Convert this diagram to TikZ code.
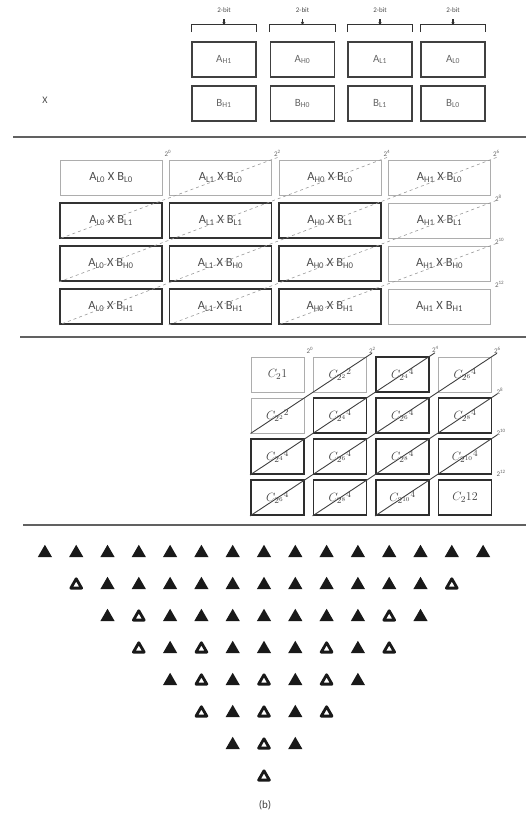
\documentclass[tikz,border=0pt]{standalone}
\usepackage{fontspec}
\setmainfont{Carlito}
\usetikzlibrary{shapes.geometric}
\begin{document}
\begin{tikzpicture}[x=1pt,y=-1pt,
  sepline/.style={line width=2.6pt, draw=black!62},
  topbox/.style={draw=black!75, line width=1.6pt, minimum width=64pt, minimum height=35pt, inner sep=0pt, font=\fontsize{11}{12}\selectfont, text=black!60},
  bracketline/.style={draw=black!80, line width=1.1pt},
  bitlabel/.style={font=\fontsize{7}{8}\selectfont, text=black!70, inner sep=0pt},
  mlight/.style={draw=black!32, line width=0.9pt, minimum width=102pt, minimum height=35pt, inner sep=0pt, font=\fontsize{12.5}{13}\selectfont, text=black!70},
  mdark/.style={mlight, draw=black!80, line width=1.8pt},
  clight/.style={draw=black!32, line width=0.9pt, minimum width=53pt, minimum height=35pt, inner sep=0pt, font=\fontsize{13}{14}\selectfont, text=black!75},
  cdark/.style={clight, draw=black!82, line width=1.8pt},
  wlabel/.style={font=\fontsize{7}{8}\selectfont, text=black!60, inner sep=1pt},
  mdiag/.style={draw=black!40, dashed, line width=0.6pt, shorten <=-6pt},
  cdiag/.style={draw=black!75, line width=0.9pt, shorten <=-6pt},
  triF/.style={regular polygon, regular polygon sides=3, minimum size=16.5pt, inner sep=0pt, fill=black!90},
  triO/.style={regular polygon, regular polygon sides=3, minimum size=12.5pt, inner sep=0pt, fill=white, draw=black!90, line width=2.8pt, line join=round}
]
\useasboundingbox (0,0) rectangle (526,823);

% ---------- top section ----------
\foreach \c/\x/\la/\lb in {1/224/H1/H1, 2/302.5/H0/H0, 3/380/L1/L1, 4/453/L0/L0}{
  \node[topbox] (a\c) at (\x,59.5) {A\textsubscript{\la}};
  \node[topbox] (b\c) at (\x,103.5) {B\textsubscript{\lb}};
  \draw[bracketline] ([yshift=9pt]a\c.north west) -- ([yshift=17pt]a\c.north west)
     -- ([yshift=17pt]a\c.north east) -- ([yshift=9pt]a\c.north east);
  \draw[bracketline] ([yshift=17pt]a\c.north) -- ([yshift=22pt]a\c.north);
  \fill[black!80] ([yshift=18.5pt]a\c.north) circle (1.6pt);
  \node[bitlabel] (bl\c) at ([yshift=31pt]a\c.north) {2-bit};
}
\node[font=\fontsize{10}{11}\selectfont, text=black!70] (xsign) at (45,100) {X};

\draw[sepline] (13,137) -- (526,137);

% ---------- middle section ----------
\foreach \r/\bl in {1/L0,2/L1,3/H0,4/H1}{
  \foreach \c/\al in {1/L0,2/L1,3/H0,4/H1}{
    \pgfmathsetmacro{\xx}{111+109.5*(\c-1)}
    \pgfmathsetmacro{\yy}{177.5+43*(\r-1)}
    \pgfmathsetmacro{\dk}{(\r>1)&&(\c<4) ? 1 : 0}
    \ifdim\dk pt>0.5pt
      \node[mdark] (m-\r-\c) at (\xx,\yy) {A\textsubscript{\al} X B\textsubscript{\bl}};
    \else
      \node[mlight] (m-\r-\c) at (\xx,\yy) {A\textsubscript{\al} X B\textsubscript{\bl}};
    \fi
  }
}
\foreach \c/\w in {1/0,2/2,3/4,4/6}{
  \node[wlabel, anchor=south west] (mt\c) at ([xshift=1pt,yshift=2pt]m-1-\c.north east) {2\textsuperscript{\w}};
}
\foreach \r/\w in {2/8,3/10,4/12}{
  \node[wlabel, anchor=south west] (mr\r) at ([xshift=3pt,yshift=0pt]m-\r-4.north east) {2\textsuperscript{\w}};
}
\draw[mdiag] (m-1-2.north east) -- (m-2-1.south west);
\draw[mdiag] (m-1-3.north east) -- (m-3-1.south west);
\draw[mdiag] (m-1-4.north east) -- (m-4-1.south west);
\draw[mdiag] (m-2-4.north east) -- (m-4-2.south west);
\draw[mdiag] (m-3-4.north east) -- (m-4-3.south west);

\draw[sepline] (20,337) -- (526,337);

% ---------- C section ----------
\foreach \r/\c/\sty/\txt in {
  1/1/clight/{$C_{2}1$}, 1/2/clight/{$C_{2^{2}}{}^{2}$}, 1/3/cdark/{$C_{2^{4}}{}^{4}$}, 1/4/clight/{$C_{2^{6}}{}^{4}$},
  2/1/clight/{$C_{2^{2}}{}^{2}$}, 2/2/cdark/{$C_{2^{4}}{}^{4}$}, 2/3/cdark/{$C_{2^{6}}{}^{4}$}, 2/4/cdark/{$C_{2^{8}}{}^{4}$},
  3/1/cdark/{$C_{2^{4}}{}^{4}$}, 3/2/cdark/{$C_{2^{6}}{}^{4}$}, 3/3/cdark/{$C_{2^{8}}{}^{4}$}, 3/4/cdark/{$C_{2^{10}}{}^{4}$},
  4/1/cdark/{$C_{2^{6}}{}^{4}$}, 4/2/cdark/{$C_{2^{8}}{}^{4}$}, 4/3/cdark/{$C_{2^{10}}{}^{4}$}, 4/4/cdark/{$C_{2}12$}}{
  \pgfmathsetmacro{\xx}{277.5+62.5*(\c-1)}
  \pgfmathsetmacro{\yy}{374.5+41*(\r-1)}
  \node[\sty] (c-\r-\c) at (\xx,\yy) {\txt};
}
\foreach \c/\w in {1/0,2/2,3/4,4/6}{
  \node[wlabel, anchor=south west] (ct\c) at ([xshift=1pt,yshift=2pt]c-1-\c.north east) {2\textsuperscript{\w}};
}
\foreach \r/\w in {2/8,3/10,4/12}{
  \node[wlabel, anchor=south west] (cr\r) at ([xshift=3pt,yshift=1pt]c-\r-4.north east) {2\textsuperscript{\w}};
}
\draw[cdiag] (c-1-2.north east) -- (c-2-1.south west);
\draw[cdiag] (c-1-3.north east) -- (c-3-1.south west);
\draw[cdiag] (c-1-4.north east) -- (c-4-1.south west);
\draw[cdiag] (c-2-4.north east) -- (c-4-2.south west);
\draw[cdiag] (c-3-4.north east) -- (c-4-3.south west);

\draw[sepline] (23,525) -- (526,525);

% ---------- triangles ----------
\foreach \row/\pat in {
  0/{F,F,F,F,F,F,F,F,F,F,F,F,F,F,F},
  1/{O,F,F,F,F,F,F,F,F,F,F,F,O},
  2/{F,O,F,F,F,F,F,F,F,O,F},
  3/{O,F,O,F,F,F,O,F,O},
  4/{F,O,F,O,F,O,F},
  5/{O,F,O,F,O},
  6/{F,O,F},
  7/{O}}{
  \foreach \t [count=\k from 0] in \pat {
    \node[tri\t] (t-\row-\k) at ({264+(\k-7+\row)*31.3},{553+32*\row}) {};
  }
}
\node[font=\fontsize{11}{13}\selectfont, text=black!75] (cap) at (265,805) {(b)};
\end{tikzpicture}
\end{document}
